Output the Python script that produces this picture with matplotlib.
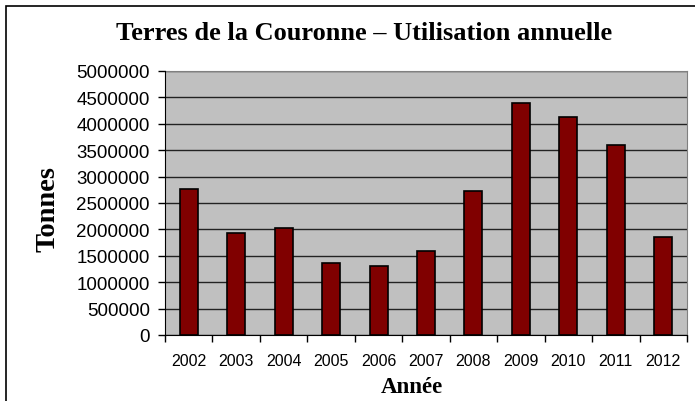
import matplotlib.pyplot as plt
from matplotlib.patches import Rectangle

# données
annees = ['2002', '2003', '2004', '2005', '2006', '2007', '2008', '2009', '2010', '2011', '2012']
tonnes = [2760000, 1940000, 2030000, 1370000, 1300000, 1600000, 2730000, 4390000, 4130000, 3590000, 1860000]

fig = plt.figure(figsize=(6.95, 4.02), dpi=100)
W, H = 695, 402

# cadre du graphique (coupé à droite et en bas)
fig.patches.append(Rectangle((6 / W, -0.05), 1.05, 1 - 7 / H + 0.05, transform=fig.transFigure,
                             fill=False, edgecolor='black', linewidth=1.2))

ax = fig.add_axes([165 / W, 1 - 336 / H, (687 - 165) / W, (336 - 72) / H])
ax.set_facecolor('#C0C0C0')

x = range(len(annees))
ax.bar(x, tonnes, width=0.38, color='#800000', edgecolor='black', linewidth=1.2, zorder=3)

ax.set_xlim(-0.5, len(annees) - 0.5)
ax.set_ylim(0, 5000000)
ax.set_yticks(range(0, 5000001, 500000))
ax.set_yticklabels([str(v) for v in range(0, 5000001, 500000)], fontsize=13.5, family='Liberation Sans')
ax.set_xticks(list(x))
ax.set_xticklabels(annees, fontsize=11.5, family='Liberation Sans')
ax.set_xticks([i - 0.5 for i in range(len(annees) + 1)], minor=True)
ax.tick_params(axis='x', which='major', length=0, pad=13)
ax.tick_params(axis='x', which='minor', length=5, width=1, direction='out')
ax.tick_params(axis='y', length=5, width=1, direction='out', pad=6)

ax.grid(axis='y', color='#222222', linewidth=1, zorder=1)
for s in ['top', 'right']:
    ax.spines[s].set_color('#808080')
for s in ['left', 'bottom']:
    ax.spines[s].set_color('black')
    ax.spines[s].set_zorder(4)

fig.text(364 / W, 1 - 39.5 / H, 'Terres de la Couronne – Utilisation annuelle', ha='center', va='baseline',
         fontsize=19, fontweight='bold', family='Liberation Serif')
fig.text(47.5 / W, 1 - 209.5 / H, 'Tonnes', rotation=90, ha='center', va='center',
         fontsize=20.5, fontweight='bold', family='Liberation Serif')
fig.text(412 / W, 1 - 393 / H, 'Année', ha='center', va='baseline',
         fontsize=16.5, fontweight='bold', family='Liberation Serif')

fig.savefig('out.png', dpi=100)
